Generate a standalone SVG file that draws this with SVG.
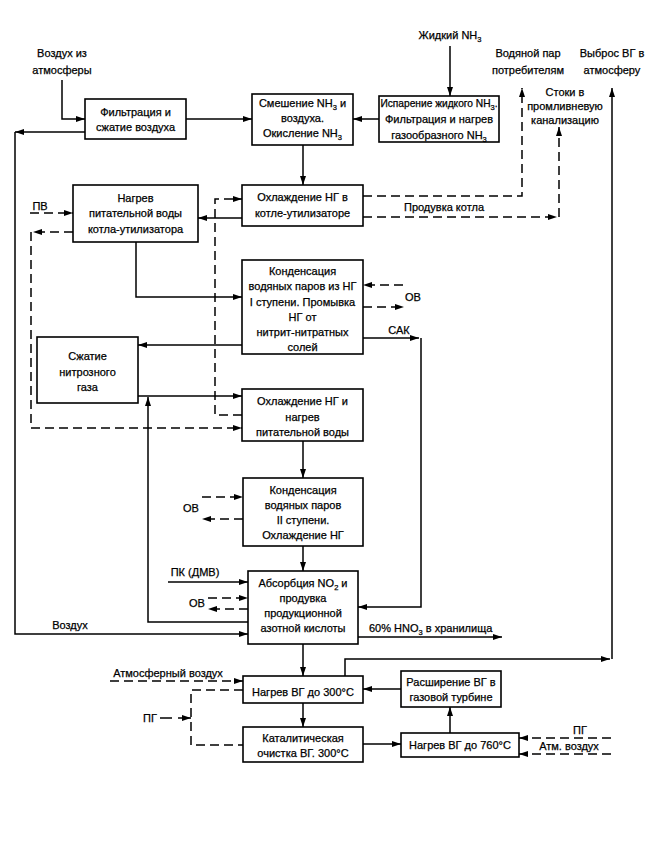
<svg xmlns="http://www.w3.org/2000/svg" width="651" height="854" viewBox="0 0 651 854">
<defs>
<marker id="ah" viewBox="0 0 9 6" refX="9" refY="3" markerWidth="9" markerHeight="6" markerUnits="userSpaceOnUse" orient="auto"><path d="M0,0 L9,3 L0,6 z" fill="#000"/></marker>
<style>
.box{fill:#fff;stroke:#000;stroke-width:1.6}
.ln{fill:none;stroke:#000;stroke-width:1.5}
.ds{fill:none;stroke:#000;stroke-width:1.5;stroke-dasharray:9 5}
.a{marker-end:url(#ah)}
text{font-family:"Liberation Sans",Arial,sans-serif;font-size:11px;fill:#000;stroke:#000;stroke-width:0.25}
.c{text-anchor:middle}
.s{font-size:7.5px}
.sm{font-size:10.2px}
</style>
</defs>
<rect width="651" height="854" fill="#fff"/>

<g id="connectors">
<path class="ln a" d="M62,80 V119 H85"/>
<path class="ln a" d="M186,119 H252"/>
<path class="ln a" d="M379,119 H353"/>
<path class="ln a" d="M450,46 V96"/>
<path class="ln a" d="M85,132 H15"/>
<path class="ln a" d="M15,132 V634 H248"/>
<path class="ln a" d="M303,145 V185"/>
<path class="ln a" d="M242,218 H198"/>
<path class="ds a" d="M363,196 H522 V88"/>
<path class="ds a" d="M363,217 H557"/>
<path class="ds a" d="M559,217 V127"/>
<path class="ds a" d="M242,415 H215 V199 H242"/>
<path class="ds a" d="M30,213 H73"/>
<path class="ds a" d="M73,232 H33"/>
<path class="ds a" d="M31,232 V428 H242"/>
<path class="ln a" d="M136,242 V297 H242"/>
<path class="ds a" d="M403,285 H363"/>
<path class="ds a" d="M363,307 H404"/>
<path class="ln a" d="M363,338 H419"/>
<path class="ln a" d="M421,338 V607 H358"/>
<path class="ln a" d="M242,345 H138"/>
<path class="ln a" d="M138,396 H242"/>
<path class="ln a" d="M248,622 H148 V397"/>
<path class="ln a" d="M303,441 V478"/>
<path class="ds a" d="M202,497 H243"/>
<path class="ds a" d="M243,519 H202"/>
<path class="ln a" d="M303,546 V571"/>
<path class="ln a" d="M168,582 H248"/>
<path class="ds a" d="M208,598 H248"/>
<path class="ds a" d="M248,609 H208"/>
<path class="ln a" d="M358,637 H502"/>
<path class="ln a" d="M303,644 V676"/>
<path class="ds a" d="M110,681 H243"/>
<path class="ds" d="M243,690 H191 V745 H243"/>
<path class="ln" d="M160,718 H172"/>
<path class="ln a" d="M178,718 H191"/>
<path class="ln a" d="M303,703 V727"/>
<path class="ln a" d="M363,744 H401"/>
<path class="ln a" d="M450,733 V707"/>
<path class="ln a" d="M401,689 H363"/>
<path class="ds a" d="M611,738 H519"/>
<path class="ds a" d="M611,754 H519"/>
<path class="ln a" d="M345,676 V659 H610"/>
<path class="ln a" d="M612,659 V88"/>
</g>

<g id="labels">
<text class="c" x="450" y="39">Жидкий NH<tspan class="s" dy="3">3</tspan></text>
<text class="c" x="62" y="57">Воздух из</text>
<text class="c" x="62" y="74">атмосферы</text>
<text class="c" x="528" y="57">Водяной пар</text>
<text class="c" x="528" y="74">потребителям</text>
<text class="c" x="612" y="57">Выброс ВГ в</text>
<text class="c" x="612" y="74">атмосферу</text>
<text class="c" x="565" y="96">Стоки в</text>
<text class="c" x="565" y="110">промливневую</text>
<text class="c" x="565" y="124">канализацию</text>
<text class="c" x="444" y="211">Продувка котла</text>
<text class="c" x="40" y="210">ПВ</text>
<text class="c" x="413" y="301">ОВ</text>
<text class="c" x="399" y="334">САК</text>
<text class="c" x="191" y="512">ОВ</text>
<text class="c" x="195" y="576">ПК (ДМВ)</text>
<text class="c" x="197" y="607">ОВ</text>
<text class="c" x="70" y="629">Воздух</text>
<text x="369" y="632">60% HNO<tspan class="s" dy="3">3</tspan><tspan dy="-3"> в хранилища</tspan></text>
<text class="c" x="168" y="677">Атмосферный воздух</text>
<text class="c" x="150" y="722">ПГ</text>
<text class="c" x="580" y="734">ПГ</text>
<text class="c" x="569" y="750">Атм. воздух</text>
</g>

<g id="n1">
<rect class="box" x="85" y="99" width="101" height="40"/>
<text class="c" x="135.5" y="116">Фильтрация и</text>
<text class="c" x="135.5" y="131">сжатие воздуха</text>
</g>
<g id="n2">
<rect class="box" x="252" y="94" width="101" height="51"/>
<text class="c" x="302.5" y="107">Смешение NH<tspan class="s" dy="3">3</tspan><tspan dy="-3"> и</tspan></text>
<text class="c" x="302.5" y="122">воздуха.</text>
<text class="c" x="302.5" y="137">Окисление NH<tspan class="s" dy="3">3</tspan></text>
</g>
<g id="n3">
<rect class="box" x="379" y="96" width="120" height="46"/>
<text class="c sm" x="439" y="107">Испарение жидкого NH<tspan class="s" dy="3">3</tspan><tspan dy="-3">.</tspan></text>
<text class="c" x="439" y="123">Фильтрация и нагрев</text>
<text class="c" x="439" y="139">газообразного NH<tspan class="s" dy="3">3</tspan></text>
</g>
<g id="n4">
<rect class="box" x="242" y="185" width="121" height="41"/>
<text class="c" x="302.5" y="201">Охлаждение НГ в</text>
<text class="c" x="302.5" y="217">котле-утилизаторе</text>
</g>
<g id="n5">
<rect class="box" x="73" y="185" width="125" height="57"/>
<text class="c" x="135.5" y="202">Нагрев</text>
<text class="c" x="135.5" y="217">питательной воды</text>
<text class="c" x="135.5" y="233">котла-утилизатора</text>
</g>
<g id="n6">
<rect class="box" x="242" y="260" width="121" height="94"/>
<text class="c" x="302.5" y="275">Конденсация</text>
<text class="c" x="302.5" y="290">водяных паров из НГ</text>
<text class="c" x="302.5" y="306">I ступени. Промывка</text>
<text class="c" x="302.5" y="321">НГ от</text>
<text class="c" x="302.5" y="336">нитрит-нитратных</text>
<text class="c" x="302.5" y="351">солей</text>
</g>
<g id="n7">
<rect class="box" x="37" y="337" width="101" height="66"/>
<text class="c" x="87.5" y="360">Сжатие</text>
<text class="c" x="87.5" y="376">нитрозного</text>
<text class="c" x="87.5" y="391">газа</text>
</g>
<g id="n8">
<rect class="box" x="242" y="389" width="121" height="52"/>
<text class="c" x="302.5" y="405">Охлаждение НГ и</text>
<text class="c" x="302.5" y="421">нагрев</text>
<text class="c" x="302.5" y="436">питательной воды</text>
</g>
<g id="n9">
<rect class="box" x="243" y="478" width="120" height="68"/>
<text class="c" x="303" y="494">Конденсация</text>
<text class="c" x="303" y="509">водяных паров</text>
<text class="c" x="303" y="524">II ступени.</text>
<text class="c" x="303" y="539">Охлаждение НГ</text>
</g>
<g id="n10">
<rect class="box" x="248" y="571" width="110" height="73"/>
<text class="c" x="303" y="587">Абсорбция NO<tspan class="s" dy="3">2</tspan><tspan dy="-3"> и</tspan></text>
<text class="c" x="303" y="602">продувка</text>
<text class="c" x="303" y="617">продукционной</text>
<text class="c" x="303" y="632">азотной кислоты</text>
</g>
<g id="n11">
<rect class="box" x="243" y="676" width="120" height="27"/>
<text class="c" x="303" y="696">Нагрев ВГ до 300°С</text>
</g>
<g id="n12">
<rect class="box" x="243" y="727" width="120" height="35"/>
<text class="c" x="303" y="742">Каталитическая</text>
<text class="c" x="303" y="757">очистка ВГ. 300°С</text>
</g>
<g id="n13">
<rect class="box" x="401" y="671" width="100" height="36"/>
<text class="c" x="451" y="686">Расширение ВГ в</text>
<text class="c" x="451" y="701">газовой турбине</text>
</g>
<g id="n14">
<rect class="box" x="401" y="733" width="118" height="24"/>
<text class="c" x="460" y="749">Нагрев ВГ до 760°С</text>
</g>
</svg>
